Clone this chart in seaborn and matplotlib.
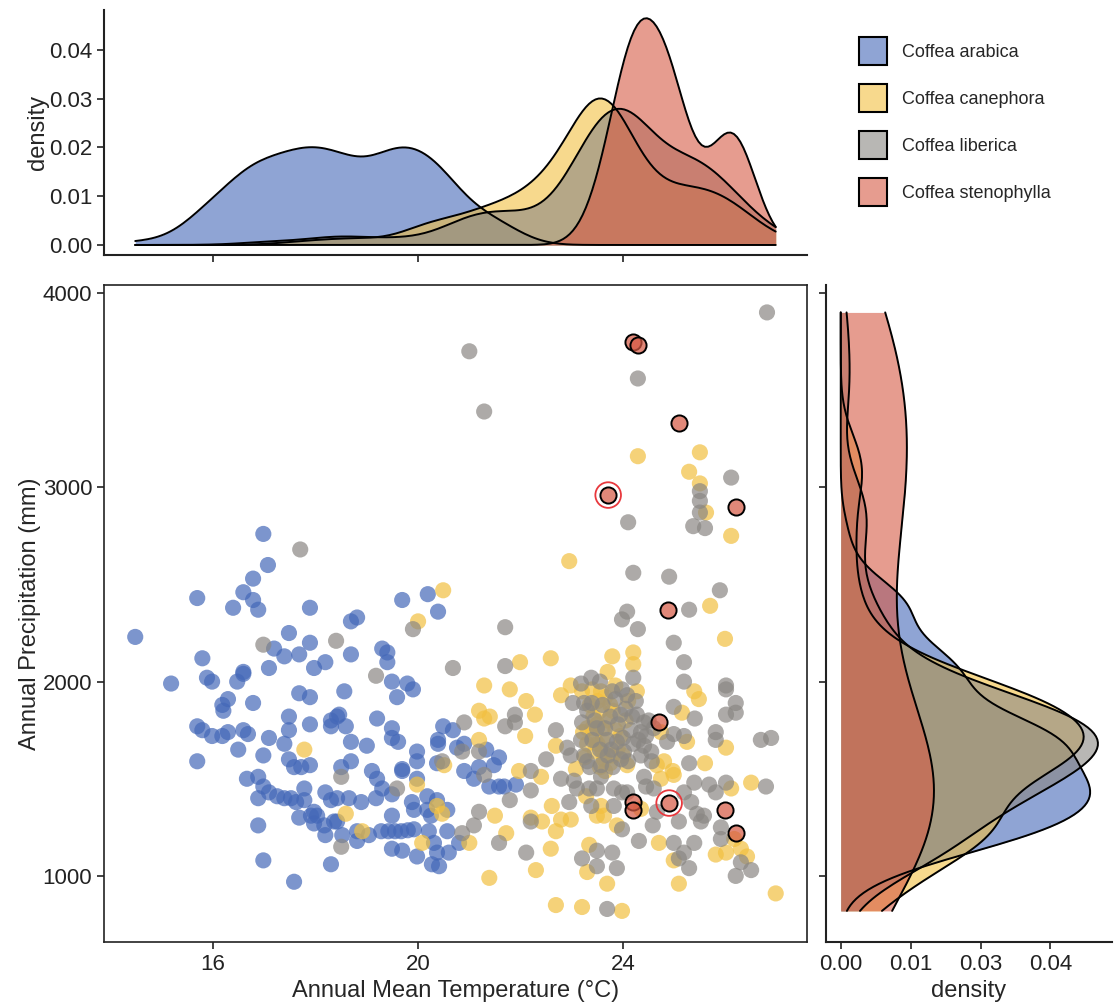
import numpy as np
import pandas as pd
import seaborn as sns
import matplotlib.pyplot as plt
from matplotlib.patches import Patch
from matplotlib.colors import to_rgba

# Species and colours
species = ["Coffea arabica", "Coffea canephora", "Coffea liberica", "Coffea stenophylla"]
colors = ["#4468B8", "#F2C041", "#8A8783", "#D65A45"]

# Occurrence points: (annual mean temperature in °C, annual precipitation in mm)
arabica_pts = np.array([
    (17.07, 2600), (16.78, 2530), (15.69, 2430), (16.59, 2460), (16.78, 2420), (16.88, 2370),
    (16.39, 2380), (17.89, 2380), (14.48, 2230), (17.48, 2250), (17.19, 2170), (17.39, 2130),
    (17.68, 2140), (17.89, 2200), (18.19, 2100), (17.97, 2070), (15.79, 2120), (17.09, 2070),
    (16.59, 2050), (16.59, 2040), (16.47, 2000), (15.88, 2020), (15.98, 2000), (15.18, 1990),
    (16.29, 1910), (16.18, 1880), (16.20, 1850), (16.78, 1890), (17.68, 1940), (17.89, 1920),
    (18.56, 1950), (15.69, 1770), (15.79, 1750), (15.98, 1720), (16.18, 1720), (16.29, 1740),
    (16.59, 1750), (16.68, 1730), (17.09, 1710), (17.48, 1820), (17.48, 1750), (17.39, 1680),
    (17.89, 1780), (18.30, 1800), (18.42, 1820), (18.30, 1770), (16.49, 1650), (16.98, 1620),
    (15.69, 1590), (17.48, 1600), (17.58, 1560), (17.72, 1560), (17.89, 1570), (16.66, 1500),
    (16.88, 1510), (16.98, 1460), (17.09, 1430), (16.88, 1400), (17.25, 1410), (17.39, 1400),
    (17.52, 1400), (17.62, 1380), (17.78, 1450), (17.78, 1390), (18.19, 1430), (18.30, 1390),
    (17.97, 1330), (18.03, 1310), (17.91, 1310), (17.68, 1300), (17.97, 1270), (18.17, 1260),
    (18.36, 1280), (18.19, 1210), (16.88, 1260), (16.98, 1080), (18.30, 1060), (17.58, 970),
    (16.98, 2760),
    (19.69, 2420), (20.19, 2450), (20.39, 2360), (18.69, 2310), (18.81, 2330), (18.69, 2140),
    (19.30, 2170), (19.40, 2150), (19.40, 2100), (19.49, 2000), (19.79, 1990), (19.90, 1960),
    (19.59, 1920), (18.46, 1830), (18.59, 1770), (19.20, 1810), (19.49, 1760), (19.49, 1710),
    (19.61, 1690), (18.69, 1690), (19.00, 1670), (20.49, 1770), (20.68, 1750), (20.39, 1700),
    (20.39, 1680), (20.76, 1660), (20.90, 1680), (21.33, 1650), (19.98, 1640), (19.98, 1590),
    (20.37, 1580), (18.69, 1590), (18.50, 1560), (19.10, 1540), (19.69, 1550), (19.69, 1540),
    (20.90, 1540), (21.09, 1500), (21.19, 1560), (21.48, 1570), (21.58, 1610), (21.39, 1460),
    (21.58, 1460), (21.68, 1460), (21.91, 1470), (19.20, 1500), (19.30, 1450), (19.49, 1420),
    (19.98, 1500), (18.89, 1380), (18.65, 1400), (18.42, 1400), (19.18, 1400), (18.42, 1280),
    (19.88, 1380), (19.92, 1340), (20.18, 1410), (20.37, 1390), (20.18, 1340), (20.25, 1310),
    (20.57, 1340), (19.49, 1310), (18.81, 1230), (19.28, 1230), (19.42, 1230), (19.55, 1230),
    (19.67, 1230), (19.80, 1235), (19.92, 1240), (19.04, 1210), (18.52, 1210), (18.81, 1180),
    (20.21, 1230), (20.57, 1230), (19.49, 1140), (19.69, 1130), (19.98, 1100), (20.31, 1170),
    (20.37, 1120), (20.60, 1120), (20.27, 1060), (20.41, 1050), (20.80, 1170),
])

canephora_pts = np.array([
    (17.78, 1650), (22.95, 2620), (20.49, 2470), (20.00, 2310), (21.99, 2100), (22.59, 2120),
    (21.29, 1980), (21.79, 1960), (22.11, 1900), (22.28, 1830), (22.79, 1930), (22.98, 1980),
    (21.19, 1850), (21.29, 1810), (21.40, 1820), (22.09, 1720), (22.69, 1670), (21.19, 1700),
    (20.51, 1570), (21.97, 1540), (22.40, 1510), (19.98, 1470), (18.59, 1320), (18.91, 1230),
    (20.37, 1360), (20.47, 1320), (20.08, 1170), (21.00, 1170), (21.50, 1310), (21.72, 1220),
    (22.20, 1300), (22.42, 1280), (22.61, 1360), (22.79, 1290), (22.69, 1230), (22.59, 1140),
    (22.30, 1030), (21.39, 990), (22.69, 850),
    (25.70, 2390), (25.99, 2220), (23.79, 2130), (24.20, 2150), (24.20, 2090), (23.57, 1950),
    (24.27, 1950), (25.39, 1950), (25.48, 1910), (25.15, 1840), (26.01, 1660), (24.74, 1740),
    (24.80, 1590), (25.60, 1580), (23.08, 1550), (23.63, 1600), (24.74, 1500), (24.99, 1520),
    (26.11, 1450), (26.50, 1480), (23.28, 1410), (23.57, 1360), (23.63, 1310), (24.35, 1345),
    (26.17, 1190), (24.70, 1170), (24.99, 1080), (25.81, 1110), (26.01, 1120), (26.30, 1140),
    (26.42, 1100), (23.34, 1160), (23.30, 1020), (23.69, 960), (25.09, 960), (26.98, 910),
    (23.20, 840), (23.98, 820), (22.98, 1290),
    (24.29, 3160), (25.50, 3180), (25.29, 3080), (25.50, 3020), (25.62, 2870), (26.11, 2750),
    (23.42, 1820), (23.22, 1740), (23.65, 1540), (24.08, 1570), (24.66, 1570), (24.97, 1540),
    (25.25, 1690), (23.49, 1310), (23.88, 1260), (23.80, 1620), (23.40, 1760), (23.55, 1850),
    (23.70, 1800), (23.50, 1900), (23.30, 1680), (23.85, 1750), (23.60, 1700), (23.45, 1640),
    (23.75, 1880), (23.20, 1950),
    (23.35, 1880), (23.50, 1780), (23.65, 1920), (23.80, 1850), (23.95, 1720), (23.45, 1700),
    (23.60, 1640), (23.75, 1580), (23.25, 1610), (23.90, 1660), (24.05, 1800), (23.40, 1960),
    (23.70, 2050), (23.55, 1560), (24.10, 1900), (23.30, 1760), (23.85, 1980), (23.60, 1760),
    (24.00, 1620), (23.50, 1680),
])

liberica_pts = np.array([
    (16.98, 2190), (18.40, 2210), (17.70, 2680), (19.90, 2270), (19.18, 2030), (20.68, 2070),
    (21.70, 2280), (21.70, 2080), (23.02, 1890), (21.89, 1830), (21.89, 1790), (21.70, 1770),
    (20.90, 1790), (22.69, 1750), (22.91, 1660), (22.98, 1620), (22.95, 1380), (20.86, 1640),
    (21.19, 1640), (20.47, 1590), (18.50, 1510), (21.29, 1520), (22.20, 1540), (22.50, 1600),
    (22.79, 1500), (22.20, 1440), (21.79, 1390), (19.59, 1450), (18.50, 1150), (20.86, 1220),
    (21.09, 1260), (21.19, 1330), (21.58, 1170), (22.20, 1280), (22.11, 1120),
    (24.20, 2560), (24.90, 2540), (25.89, 2470), (25.29, 2370), (24.08, 2360), (23.98, 2320),
    (24.29, 2270), (24.99, 2200), (25.19, 2100), (25.19, 2000), (24.20, 2020), (26.01, 1980),
    (26.01, 1960), (23.38, 2020), (23.18, 1990), (23.24, 1890), (23.39, 1890), (23.79, 1950),
    (23.98, 1960), (24.08, 1930), (24.99, 1870), (26.20, 1890), (26.01, 1830), (26.20, 1840),
    (24.27, 1830), (24.18, 1820), (24.41, 1790), (25.40, 1810), (25.81, 1740), (25.81, 1700),
    (26.69, 1700), (26.89, 1710), (24.99, 1730), (25.19, 1720), (24.86, 1690), (23.20, 1790),
    (23.49, 1760), (23.69, 1700), (23.88, 1690), (23.77, 1650), (24.02, 1640), (23.96, 1600),
    (24.35, 1740), (24.41, 1670), (24.55, 1640), (24.56, 1590), (25.29, 1580), (23.24, 1620),
    (23.18, 1700), (23.30, 1590), (23.57, 1570), (23.57, 1510), (24.41, 1510), (24.45, 1460),
    (24.60, 1450), (25.39, 1480), (25.68, 1470), (25.81, 1430), (26.01, 1480), (26.79, 1460),
    (23.04, 1490), (23.10, 1450), (23.34, 1450), (23.49, 1450), (23.82, 1450), (24.08, 1430),
    (23.38, 1360), (23.82, 1360), (23.98, 1430), (24.66, 1330), (25.09, 1280), (25.19, 1430),
    (25.33, 1380), (25.44, 1320), (25.52, 1280), (25.58, 1310), (25.91, 1250), (25.91, 1190),
    (23.98, 1240), (24.31, 1180), (24.58, 1260), (24.99, 1170), (25.39, 1170), (25.19, 1120),
    (25.09, 1090), (25.29, 1040), (26.30, 1070), (26.50, 1030), (26.20, 1000), (23.49, 1130),
    (23.79, 1120), (23.20, 1090), (23.49, 1050), (23.88, 1040), (23.69, 830),
    (26.81, 3900), (24.29, 3560), (26.11, 3050), (25.50, 2980), (25.50, 2930), (25.50, 2870),
    (24.10, 2820), (25.37, 2800), (25.60, 2790), (21.00, 3700), (21.29, 3390),
    (23.30, 1850), (23.45, 1800), (23.60, 1880), (23.75, 1820), (23.90, 1780), (24.05, 1860),
    (24.15, 1750), (24.30, 1700), (24.45, 1720), (23.55, 1650), (23.65, 1760), (23.85, 1910),
    (24.00, 1710), (24.20, 1680), (23.40, 1700), (23.70, 1620), (24.10, 1590), (24.50, 1800),
    (23.95, 1830), (24.25, 1900), (23.35, 1560), (23.80, 1560), (24.35, 1620), (23.55, 2000),
    (24.60, 1760),
])

stenophylla_pts = np.array([
    (24.20, 3750), (24.29, 3730), (25.09, 3330), (23.71, 2960), (26.20, 2900), (24.88, 2370),
    (24.70, 1790), (24.20, 1380), (24.20, 1340), (24.90, 1375), (25.99, 1340), (26.20, 1220),
])
# stenophylla records highlighted with a red ring
steno_circled = [3, 9]

# Axis ticks
temp_ticks = [16, 20, 24]
prec_ticks = [1000, 2000, 3000, 4000]
top_density_ticks = [0.00, 0.01, 0.02, 0.03, 0.04]
right_density_ticks = [0.0, 0.0125, 0.025, 0.0375]
right_density_labels = ["0.00", "0.01", "0.03", "0.04"]
TEMP_UNIT = 0.1   # marginal density is expressed per 0.1 °C
PREC_UNIT = 44    # marginal density is expressed per 44 mm

all_pts = [arabica_pts, canephora_pts, liberica_pts, stenophylla_pts]

sns.set_theme(style="ticks")
plt.rcParams['font.family'] = ['Liberation Sans', 'DejaVu Sans']
plt.rcParams['axes.edgecolor'] = '#222222'
plt.rcParams['xtick.color'] = '#222222'
plt.rcParams['ytick.color'] = '#222222'

fig = plt.figure(figsize=(11.18, 10.05), dpi=100)
ax_main = fig.add_axes([0.093, 0.0627, 0.6288, 0.6537])
ax_top = fig.add_axes([0.093, 0.7463, 0.6288, 0.2438], sharex=ax_main)
ax_right = fig.add_axes([0.7388, 0.0627, 0.2558, 0.6537], sharey=ax_main)

# Scatter of the three main species
df = pd.concat([
    pd.DataFrame({'temp': pts[:, 0], 'prec': pts[:, 1], 'species': name})
    for name, pts in zip(species[:3], all_pts[:3])
], ignore_index=True)
sns.scatterplot(data=df, x='temp', y='prec', hue='species', hue_order=species[:3],
                palette=colors[:3], s=135, alpha=0.7, linewidth=0, legend=False, ax=ax_main)

# Stenophylla on top with black outlines
ax_main.scatter(stenophylla_pts[:, 0], stenophylla_pts[:, 1], s=135,
                facecolors=to_rgba(colors[3], 0.72), edgecolors='black', linewidths=1.4, zorder=3)
ax_main.scatter(stenophylla_pts[steno_circled, 0], stenophylla_pts[steno_circled, 1], s=340,
                facecolors='none', edgecolors='#E8383D', linewidths=1.3, zorder=4)

ax_main.set_xlim(13.87, 27.59)
ax_main.set_ylim(660, 4041)
ax_main.set_xticks(temp_ticks)
ax_main.set_yticks(prec_ticks)
ax_main.set_xlabel("Annual Mean Temperature (°C)", fontsize=17)
ax_main.set_ylabel("Annual Precipitation (mm)", fontsize=17, labelpad=1)
ax_main.tick_params(labelsize=16, length=5, width=1.2)
for sp in ax_main.spines.values():
    sp.set_visible(True)
    sp.set_linewidth(1.2)

# Marginal densities, each computed over the full data range
t_all = np.concatenate([p[:, 0] for p in all_pts])
p_all = np.concatenate([p[:, 1] for p in all_pts])
kde_kws = dict(bw_method='scott', bw_adjust=0.85, cut=100)
for pts, col in zip(all_pts, colors):
    sns.kdeplot(x=pts[:, 0], ax=ax_top, fill=True, color=col, alpha=0.6, linewidth=0,
                clip=(t_all.min(), t_all.max()), **kde_kws)
    sns.kdeplot(x=pts[:, 0], ax=ax_top, fill=False, color='black', linewidth=1.4,
                clip=(t_all.min(), t_all.max()), **kde_kws)
    sns.kdeplot(y=pts[:, 1], ax=ax_right, fill=True, color=col, alpha=0.6, linewidth=0,
                clip=(p_all.min(), p_all.max()), **kde_kws)
    sns.kdeplot(y=pts[:, 1], ax=ax_right, fill=False, color='black', linewidth=1.4,
                clip=(p_all.min(), p_all.max()), **kde_kws)

# Top marginal
ax_top.set_ylim(-0.0205, 0.482)
ax_top.set_yticks(np.array(top_density_ticks) / TEMP_UNIT)
ax_top.set_yticklabels([f"{v:.2f}" for v in top_density_ticks])
ax_top.set_ylabel("density", fontsize=17, labelpad=0)
ax_top.set_xlabel("")
ax_top.tick_params(labelsize=16, length=5, width=1.2)
ax_top.tick_params(axis='x', labelbottom=False)
sns.despine(ax=ax_top)
ax_top.spines['left'].set_linewidth(1.5)
ax_top.spines['bottom'].set_linewidth(1.5)

# Right marginal
ax_right.set_xlim(-0.00264 / PREC_UNIT, 0.0485 / PREC_UNIT)
ax_right.set_xticks(np.array(right_density_ticks) / PREC_UNIT)
ax_right.set_xticklabels(right_density_labels)
ax_right.set_xlabel("density", fontsize=17)
ax_right.set_ylabel("")
ax_right.tick_params(labelsize=16, length=5, width=1.2)
ax_right.tick_params(axis='y', labelleft=False)
sns.despine(ax=ax_right)
ax_right.spines['left'].set_linewidth(1.5)
ax_right.spines['bottom'].set_linewidth(1.5)

# Legend
handles = [Patch(facecolor=to_rgba(c, 0.6), edgecolor='black', linewidth=1.5, label=n)
           for n, c in zip(species, colors)]
fig.legend(handles=handles, loc='upper left', bbox_to_anchor=(0.762, 0.97), frameon=False,
           fontsize=13, handlelength=1.55, handleheight=2.0, labelspacing=1.05,
           handletextpad=0.85, borderaxespad=0)

fig.savefig("out.png", dpi=100, facecolor='white')
